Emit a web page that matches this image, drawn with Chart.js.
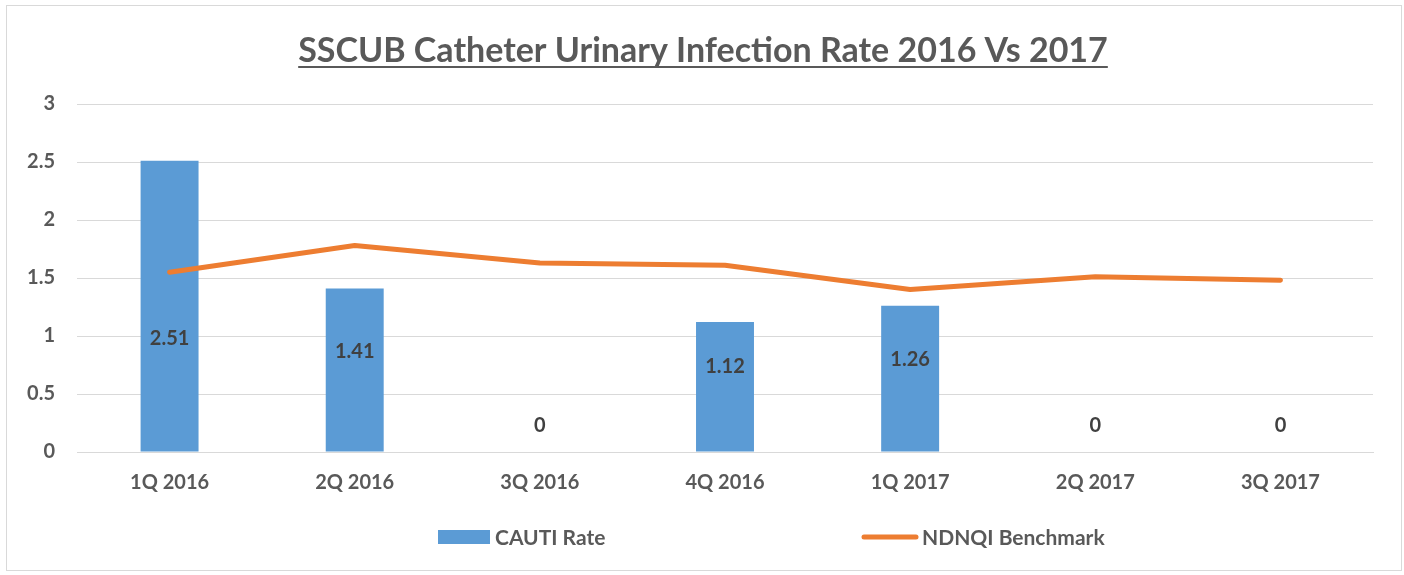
<!DOCTYPE html>
<html>
<head>
<meta charset="utf-8">
<script src="https://cdn.jsdelivr.net/npm/chart.js@4"></script>
<style>
  html, body { margin: 0; padding: 0; background: #fff; }
  #wrap { position: relative; width: 1404px; height: 575px; }
</style>
</head>
<body>
<div id="wrap"><canvas id="cautiChart"></canvas></div>
<script>
  const quarters = ['1Q 2016', '2Q 2016', '3Q 2016', '4Q 2016', '1Q 2017', '2Q 2017', '3Q 2017'];
  const cautiRate = [2.51, 1.41, 0, 1.12, 1.26, 0, 0];
  const ndnqiBenchmark = [1.55, 1.78, 1.63, 1.61, 1.40, 1.51, 1.48];
  const yTicks = [0, 0.5, 1, 1.5, 2, 2.5, 3];

  const FONT = 'Lato, "Open Sans", sans-serif';
  const TEXT = '#595959';

  // title, frame, value labels and legend drawn by hand
  const extras = {
    id: 'extras',
    afterDraw(chart) {
      const ctx = chart.ctx;
      const area = chart.chartArea;
      ctx.save();

      ctx.strokeStyle = '#d9d9d9';
      ctx.lineWidth = 1;
      ctx.strokeRect(6.5, 5.5, 1395, 565);

      ctx.fillStyle = TEXT;
      ctx.font = 'bold 34px ' + FONT;
      ctx.textAlign = 'center';
      ctx.textBaseline = 'alphabetic';
      const title = 'SSCUB Catheter Urinary Infection Rate 2016 Vs 2017';
      const cx = 703;
      ctx.fillText(title, cx, 62);
      const tw = ctx.measureText(title).width;
      ctx.fillRect(cx - tw / 2, 66, tw, 2);

      // bar value labels
      const meta = chart.getDatasetMeta(0);
      const y = chart.scales.y;
      ctx.font = 'bold 20px ' + FONT;
      ctx.fillStyle = '#404040';
      ctx.textBaseline = 'middle';
      meta.data.forEach((bar, i) => {
        const v = cautiRate[i];
        const pos = Math.min(0.23 + 0.45 * v, 0.98);
        ctx.fillText(String(v), bar.x, y.getPixelForValue(pos));
      });

      // legend
      const ly = 537;
      const ds = chart.data.datasets;
      ctx.font = 'bold 21px ' + FONT;
      ctx.textAlign = 'left';
      ctx.fillStyle = ds[0].backgroundColor;
      ctx.fillRect(438, ly - 7, 52, 14);
      ctx.fillStyle = TEXT;
      ctx.fillText(ds[0].label, 495, ly + 1);

      ctx.strokeStyle = ds[1].borderColor;
      ctx.lineWidth = 5;
      ctx.lineCap = 'round';
      ctx.beginPath();
      ctx.moveTo(864, ly);
      ctx.lineTo(916, ly);
      ctx.stroke();
      ctx.fillText(ds[1].label, 922, ly + 1);

      ctx.restore();
    }
  };

  new Chart(document.getElementById('cautiChart'), {
    data: {
      labels: quarters,
      datasets: [
        {
          type: 'bar',
          label: 'CAUTI Rate',
          data: cautiRate,
          backgroundColor: '#5b9bd5',
          barPercentage: 0.313,
          categoryPercentage: 1,
          order: 2
        },
        {
          type: 'line',
          label: 'NDNQI Benchmark',
          data: ndnqiBenchmark,
          borderColor: '#ed7d31',
          backgroundColor: '#ed7d31',
          borderWidth: 5,
          borderCapStyle: 'round',
          borderJoinStyle: 'round',
          pointRadius: 0,
          tension: 0,
          order: 1
        }
      ]
    },
    options: {
      responsive: true,
      maintainAspectRatio: false,
      animation: false,
      layout: { padding: { top: 104, right: 31, left: 0, bottom: 0 } },
      plugins: {
        legend: { display: false },
        title: { display: false },
        tooltip: { enabled: false }
      },
      scales: {
        x: {
          offset: true,
          grid: { display: false, drawTicks: false },
          border: { display: true, color: '#d9d9d9', width: 1 },
          ticks: { color: TEXT, font: { family: FONT, size: 20, weight: 'bold' }, padding: 19 },
          afterFit(scale) { scale.height = 123; }
        },
        y: {
          min: 0,
          max: 3,
          afterBuildTicks(scale) { scale.ticks = yTicks.map(v => ({ value: v })); },
          grid: { color: '#d9d9d9', lineWidth: 1, drawTicks: false },
          border: { display: false },
          ticks: {
            color: TEXT,
            font: { family: FONT, size: 20, weight: 'bold' },
            padding: 22,
            callback: v => String(v)
          },
          afterFit(scale) { scale.width = 77; }
        }
      }
    },
    plugins: [extras]
  });
</script>
</body>
</html>
